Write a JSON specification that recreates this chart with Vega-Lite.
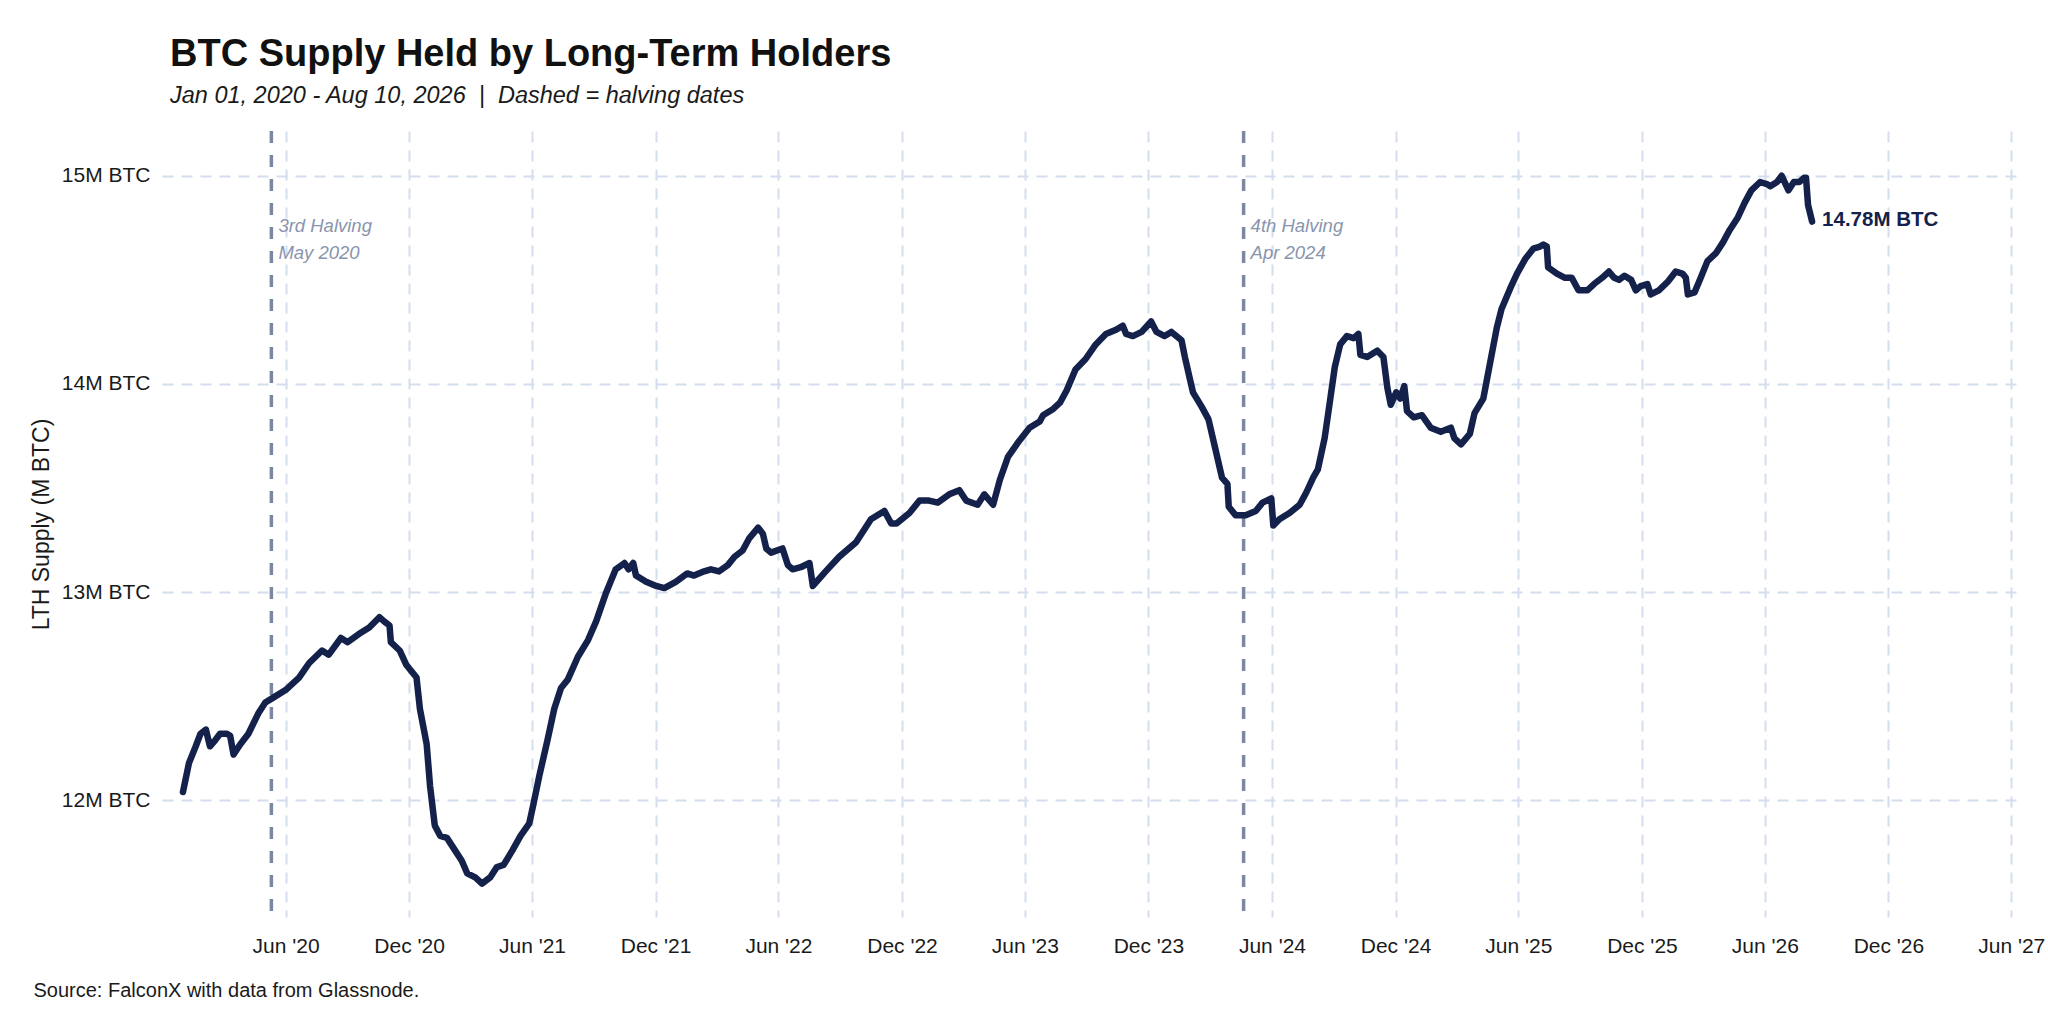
{
  "$schema": "https://vega.github.io/schema/vega-lite/v6.json",
  "autosize": "none",
  "width": 1854,
  "height": 786,
  "padding": {"left": 162, "top": 131, "right": 32, "bottom": 107},
  "background": "white",
  "title": {
    "text": "BTC Supply Held by Long-Term Holders",
    "subtitle": "Jan 01, 2020 - Aug 10, 2026 \u00a0|\u00a0 Dashed = halving dates",
    "anchor": "start",
    "frame": "group",
    "dx": 8,
    "offset": 22,
    "font": "Liberation Sans",
    "fontSize": 38,
    "fontWeight": "bold",
    "color": "#111111",
    "subtitleFont": "Liberation Sans",
    "subtitleFontSize": 23.5,
    "subtitleFontStyle": "italic",
    "subtitleColor": "#1a1a1a",
    "subtitlePadding": 10
  },
  "datasets": {
    "lth": [
      {"date": "2020-01-01", "value": 12.04},
      {"date": "2020-01-10", "value": 12.18},
      {"date": "2020-01-20", "value": 12.26},
      {"date": "2020-01-27", "value": 12.32},
      {"date": "2020-02-04", "value": 12.34},
      {"date": "2020-02-10", "value": 12.26},
      {"date": "2020-02-18", "value": 12.29},
      {"date": "2020-02-25", "value": 12.32},
      {"date": "2020-03-06", "value": 12.32},
      {"date": "2020-03-11", "value": 12.31},
      {"date": "2020-03-16", "value": 12.22},
      {"date": "2020-03-26", "value": 12.27},
      {"date": "2020-04-07", "value": 12.32},
      {"date": "2020-04-22", "value": 12.42},
      {"date": "2020-05-02", "value": 12.47},
      {"date": "2020-05-12", "value": 12.49},
      {"date": "2020-06-01", "value": 12.53},
      {"date": "2020-06-21", "value": 12.59},
      {"date": "2020-07-06", "value": 12.66},
      {"date": "2020-07-25", "value": 12.72},
      {"date": "2020-08-04", "value": 12.70},
      {"date": "2020-08-22", "value": 12.78},
      {"date": "2020-09-01", "value": 12.76},
      {"date": "2020-09-18", "value": 12.80},
      {"date": "2020-10-03", "value": 12.83},
      {"date": "2020-10-18", "value": 12.88},
      {"date": "2020-10-25", "value": 12.86},
      {"date": "2020-11-02", "value": 12.84},
      {"date": "2020-11-04", "value": 12.76},
      {"date": "2020-11-17", "value": 12.72},
      {"date": "2020-11-27", "value": 12.65},
      {"date": "2020-12-12", "value": 12.59},
      {"date": "2020-12-17", "value": 12.44},
      {"date": "2020-12-27", "value": 12.27},
      {"date": "2021-01-01", "value": 12.07},
      {"date": "2021-01-08", "value": 11.88},
      {"date": "2021-01-16", "value": 11.83},
      {"date": "2021-01-26", "value": 11.82},
      {"date": "2021-02-07", "value": 11.76},
      {"date": "2021-02-17", "value": 11.71},
      {"date": "2021-02-25", "value": 11.65},
      {"date": "2021-03-09", "value": 11.63},
      {"date": "2021-03-19", "value": 11.60},
      {"date": "2021-03-31", "value": 11.63},
      {"date": "2021-04-10", "value": 11.68},
      {"date": "2021-04-20", "value": 11.69},
      {"date": "2021-05-03", "value": 11.76},
      {"date": "2021-05-15", "value": 11.83},
      {"date": "2021-05-28", "value": 11.89},
      {"date": "2021-06-03", "value": 11.98},
      {"date": "2021-06-12", "value": 12.12},
      {"date": "2021-06-24", "value": 12.29},
      {"date": "2021-07-04", "value": 12.44},
      {"date": "2021-07-14", "value": 12.54},
      {"date": "2021-07-24", "value": 12.58},
      {"date": "2021-08-08", "value": 12.69},
      {"date": "2021-08-23", "value": 12.77},
      {"date": "2021-09-04", "value": 12.86},
      {"date": "2021-09-19", "value": 13.00},
      {"date": "2021-10-03", "value": 13.11},
      {"date": "2021-10-16", "value": 13.14},
      {"date": "2021-10-22", "value": 13.11},
      {"date": "2021-10-29", "value": 13.14},
      {"date": "2021-11-02", "value": 13.08},
      {"date": "2021-11-17", "value": 13.05},
      {"date": "2021-12-02", "value": 13.03},
      {"date": "2021-12-14", "value": 13.02},
      {"date": "2021-12-31", "value": 13.05},
      {"date": "2022-01-17", "value": 13.09},
      {"date": "2022-01-27", "value": 13.08},
      {"date": "2022-02-11", "value": 13.10},
      {"date": "2022-02-21", "value": 13.11},
      {"date": "2022-03-05", "value": 13.10},
      {"date": "2022-03-18", "value": 13.13},
      {"date": "2022-03-28", "value": 13.17},
      {"date": "2022-04-09", "value": 13.20},
      {"date": "2022-04-19", "value": 13.26},
      {"date": "2022-05-02", "value": 13.31},
      {"date": "2022-05-09", "value": 13.28},
      {"date": "2022-05-14", "value": 13.21},
      {"date": "2022-05-21", "value": 13.19},
      {"date": "2022-06-07", "value": 13.21},
      {"date": "2022-06-15", "value": 13.13},
      {"date": "2022-06-22", "value": 13.11},
      {"date": "2022-07-04", "value": 13.12},
      {"date": "2022-07-17", "value": 13.14},
      {"date": "2022-07-22", "value": 13.03},
      {"date": "2022-08-10", "value": 13.10},
      {"date": "2022-08-30", "value": 13.17},
      {"date": "2022-09-24", "value": 13.24},
      {"date": "2022-10-16", "value": 13.35},
      {"date": "2022-11-05", "value": 13.39},
      {"date": "2022-11-15", "value": 13.33},
      {"date": "2022-11-23", "value": 13.33},
      {"date": "2022-12-12", "value": 13.38},
      {"date": "2022-12-27", "value": 13.44},
      {"date": "2023-01-10", "value": 13.44},
      {"date": "2023-01-23", "value": 13.43},
      {"date": "2023-02-09", "value": 13.47},
      {"date": "2023-02-24", "value": 13.49},
      {"date": "2023-03-06", "value": 13.44},
      {"date": "2023-03-23", "value": 13.42},
      {"date": "2023-04-02", "value": 13.47},
      {"date": "2023-04-15", "value": 13.42},
      {"date": "2023-04-25", "value": 13.54},
      {"date": "2023-05-07", "value": 13.65},
      {"date": "2023-05-22", "value": 13.72},
      {"date": "2023-06-08", "value": 13.79},
      {"date": "2023-06-23", "value": 13.82},
      {"date": "2023-06-28", "value": 13.85},
      {"date": "2023-07-13", "value": 13.88},
      {"date": "2023-07-23", "value": 13.91},
      {"date": "2023-08-02", "value": 13.97},
      {"date": "2023-08-15", "value": 14.07},
      {"date": "2023-08-30", "value": 14.12},
      {"date": "2023-09-14", "value": 14.19},
      {"date": "2023-09-29", "value": 14.24},
      {"date": "2023-10-14", "value": 14.26},
      {"date": "2023-10-24", "value": 14.28},
      {"date": "2023-10-29", "value": 14.24},
      {"date": "2023-11-08", "value": 14.23},
      {"date": "2023-11-21", "value": 14.25},
      {"date": "2023-12-05", "value": 14.30},
      {"date": "2023-12-13", "value": 14.25},
      {"date": "2023-12-25", "value": 14.23},
      {"date": "2024-01-04", "value": 14.25},
      {"date": "2024-01-19", "value": 14.21},
      {"date": "2024-01-24", "value": 14.13},
      {"date": "2024-01-31", "value": 14.03},
      {"date": "2024-02-05", "value": 13.96},
      {"date": "2024-02-18", "value": 13.89},
      {"date": "2024-02-28", "value": 13.83},
      {"date": "2024-03-09", "value": 13.69},
      {"date": "2024-03-19", "value": 13.55},
      {"date": "2024-03-27", "value": 13.52},
      {"date": "2024-03-29", "value": 13.41},
      {"date": "2024-04-08", "value": 13.37},
      {"date": "2024-04-23", "value": 13.37},
      {"date": "2024-05-08", "value": 13.39},
      {"date": "2024-05-18", "value": 13.43},
      {"date": "2024-05-31", "value": 13.45},
      {"date": "2024-06-03", "value": 13.32},
      {"date": "2024-06-12", "value": 13.35},
      {"date": "2024-06-27", "value": 13.38},
      {"date": "2024-07-12", "value": 13.42},
      {"date": "2024-07-22", "value": 13.48},
      {"date": "2024-08-01", "value": 13.55},
      {"date": "2024-08-08", "value": 13.59},
      {"date": "2024-08-18", "value": 13.74},
      {"date": "2024-08-26", "value": 13.92},
      {"date": "2024-09-02", "value": 14.08},
      {"date": "2024-09-10", "value": 14.19},
      {"date": "2024-09-20", "value": 14.23},
      {"date": "2024-09-30", "value": 14.22},
      {"date": "2024-10-07", "value": 14.24},
      {"date": "2024-10-10", "value": 14.14},
      {"date": "2024-10-20", "value": 14.13},
      {"date": "2024-11-04", "value": 14.16},
      {"date": "2024-11-13", "value": 14.13},
      {"date": "2024-11-19", "value": 13.98},
      {"date": "2024-11-24", "value": 13.90},
      {"date": "2024-12-02", "value": 13.96},
      {"date": "2024-12-08", "value": 13.93},
      {"date": "2024-12-14", "value": 13.99},
      {"date": "2024-12-18", "value": 13.87},
      {"date": "2024-12-28", "value": 13.84},
      {"date": "2025-01-09", "value": 13.85},
      {"date": "2025-01-22", "value": 13.79},
      {"date": "2025-02-06", "value": 13.77},
      {"date": "2025-02-21", "value": 13.79},
      {"date": "2025-02-26", "value": 13.74},
      {"date": "2025-03-08", "value": 13.71},
      {"date": "2025-03-21", "value": 13.76},
      {"date": "2025-03-28", "value": 13.86},
      {"date": "2025-04-10", "value": 13.93},
      {"date": "2025-04-20", "value": 14.10},
      {"date": "2025-04-30", "value": 14.27},
      {"date": "2025-05-07", "value": 14.36},
      {"date": "2025-05-20", "value": 14.46},
      {"date": "2025-05-30", "value": 14.53},
      {"date": "2025-06-11", "value": 14.60},
      {"date": "2025-06-23", "value": 14.65},
      {"date": "2025-07-03", "value": 14.66},
      {"date": "2025-07-08", "value": 14.67},
      {"date": "2025-07-13", "value": 14.66},
      {"date": "2025-07-15", "value": 14.56},
      {"date": "2025-07-28", "value": 14.53},
      {"date": "2025-08-09", "value": 14.51},
      {"date": "2025-08-19", "value": 14.51},
      {"date": "2025-08-29", "value": 14.45},
      {"date": "2025-09-11", "value": 14.45},
      {"date": "2025-09-21", "value": 14.48},
      {"date": "2025-10-03", "value": 14.51},
      {"date": "2025-10-13", "value": 14.54},
      {"date": "2025-10-21", "value": 14.51},
      {"date": "2025-10-28", "value": 14.50},
      {"date": "2025-11-05", "value": 14.52},
      {"date": "2025-11-15", "value": 14.50},
      {"date": "2025-11-22", "value": 14.45},
      {"date": "2025-11-29", "value": 14.47},
      {"date": "2025-12-09", "value": 14.48},
      {"date": "2025-12-14", "value": 14.43},
      {"date": "2025-12-26", "value": 14.45},
      {"date": "2026-01-08", "value": 14.49},
      {"date": "2026-01-20", "value": 14.54},
      {"date": "2026-01-30", "value": 14.53},
      {"date": "2026-02-04", "value": 14.51},
      {"date": "2026-02-07", "value": 14.43},
      {"date": "2026-02-17", "value": 14.44},
      {"date": "2026-02-26", "value": 14.51},
      {"date": "2026-03-08", "value": 14.59},
      {"date": "2026-03-21", "value": 14.63},
      {"date": "2026-03-31", "value": 14.68},
      {"date": "2026-04-10", "value": 14.74},
      {"date": "2026-04-22", "value": 14.80},
      {"date": "2026-05-02", "value": 14.87},
      {"date": "2026-05-12", "value": 14.93},
      {"date": "2026-05-25", "value": 14.97},
      {"date": "2026-06-04", "value": 14.96},
      {"date": "2026-06-09", "value": 14.95},
      {"date": "2026-06-19", "value": 14.97},
      {"date": "2026-06-26", "value": 15.00},
      {"date": "2026-07-06", "value": 14.93},
      {"date": "2026-07-14", "value": 14.97},
      {"date": "2026-07-22", "value": 14.97},
      {"date": "2026-07-29", "value": 14.99},
      {"date": "2026-08-01", "value": 14.99},
      {"date": "2026-08-04", "value": 14.86},
      {"date": "2026-08-10", "value": 14.78}
    ],
    "halvings": [
      {"date": "2020-05-11", "label": "3rd Halving", "when": "May 2020"},
      {"date": "2024-04-20", "label": "4th Halving", "when": "Apr 2024"}
    ],
    "latest": [
      {"date": "2026-08-10", "value": 14.78, "label": "14.78M BTC"}
    ]
  },
  "encoding": {
    "x": {
      "field": "date",
      "type": "temporal",
      "scale": {
        "domain": [
          {"year": 2019, "month": "dec", "date": 1},
          {"year": 2027, "month": "jun", "date": 8}
        ]
      },
      "axis": {
        "title": "Source: FalconX with data from Glassnode.",
        "titleFont": "Liberation Sans",
        "titleFontSize": 20,
        "titleFontWeight": "normal",
        "titleColor": "#1a1a1a",
        "titleAnchor": "start",
        "titleAlign": "left",
        "titleBaseline": "alphabetic",
        "titleX": -129,
        "titleY": 79,
        "values": [
          {"year": 2020, "month": "jun", "date": 1},
          {"year": 2020, "month": "dec", "date": 1},
          {"year": 2021, "month": "jun", "date": 1},
          {"year": 2021, "month": "dec", "date": 1},
          {"year": 2022, "month": "jun", "date": 1},
          {"year": 2022, "month": "dec", "date": 1},
          {"year": 2023, "month": "jun", "date": 1},
          {"year": 2023, "month": "dec", "date": 1},
          {"year": 2024, "month": "jun", "date": 1},
          {"year": 2024, "month": "dec", "date": 1},
          {"year": 2025, "month": "jun", "date": 1},
          {"year": 2025, "month": "dec", "date": 1},
          {"year": 2026, "month": "jun", "date": 1},
          {"year": 2026, "month": "dec", "date": 1},
          {"year": 2027, "month": "jun", "date": 1}
        ],
        "format": "%b '%y",
        "labelPadding": 18,
        "labelFlush": false,
        "labelOverlap": false
      }
    }
  },
  "layer": [
    {
      "data": {"name": "halvings"},
      "mark": {
        "type": "rule",
        "color": "#7c88a2",
        "strokeWidth": 3.5,
        "strokeDash": [12, 12]
      },
      "encoding": {}
    },
    {
      "data": {"name": "halvings"},
      "mark": {
        "type": "text",
        "align": "left",
        "baseline": "alphabetic",
        "dx": 7,
        "font": "Liberation Sans",
        "fontSize": 18.5,
        "fontStyle": "italic",
        "color": "#8995ae"
      },
      "encoding": {
        "y": {"datum": 14.73, "type": "quantitative"},
        "text": {"field": "label"}
      }
    },
    {
      "data": {"name": "halvings"},
      "mark": {
        "type": "text",
        "align": "left",
        "baseline": "alphabetic",
        "dx": 7,
        "font": "Liberation Sans",
        "fontSize": 18.5,
        "fontStyle": "italic",
        "color": "#8995ae"
      },
      "encoding": {
        "y": {"datum": 14.6, "type": "quantitative"},
        "text": {"field": "when"}
      }
    },
    {
      "data": {"name": "lth"},
      "mark": {
        "type": "line",
        "color": "#14214b",
        "strokeWidth": 6.5,
        "strokeJoin": "round",
        "strokeCap": "round"
      },
      "encoding": {
        "y": {
          "field": "value",
          "type": "quantitative",
          "scale": {"domain": [11.44, 15.215], "zero": false, "nice": false},
          "axis": {
            "title": "LTH Supply (M BTC)",
            "titleFont": "Liberation Sans",
            "titleFontSize": 23,
            "titleFontWeight": "normal",
            "titleColor": "#1a1a1a",
            "titlePadding": 8,
            "values": [12, 13, 14, 15],
            "labelExpr": "datum.value + 'M BTC'",
            "labelPadding": 12
          }
        }
      }
    },
    {
      "data": {"name": "latest"},
      "mark": {
        "type": "text",
        "align": "left",
        "baseline": "middle",
        "dx": 10,
        "dy": -2,
        "font": "Liberation Sans",
        "fontSize": 20.5,
        "fontWeight": "bold",
        "color": "#14214b"
      },
      "encoding": {
        "y": {"field": "value", "type": "quantitative"},
        "text": {"field": "label"}
      }
    }
  ],
  "config": {
    "view": {"stroke": null},
    "axis": {
      "domain": false,
      "ticks": false,
      "grid": true,
      "gridColor": "#d4deee",
      "gridWidth": 2,
      "gridDash": [11, 8],
      "labelFont": "Liberation Sans",
      "labelFontSize": 21,
      "labelColor": "#1a1a1a"
    }
  }
}
